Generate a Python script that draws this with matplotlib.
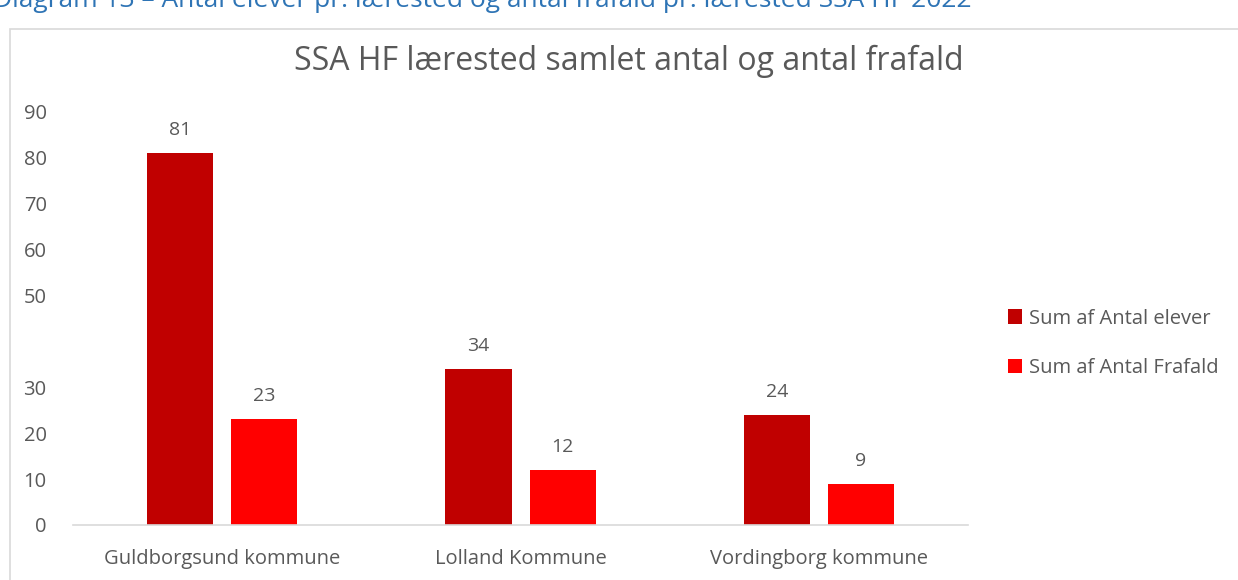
import matplotlib.pyplot as plt
from matplotlib.patches import Rectangle
import numpy as np

plt.rcParams["font.family"] = ["Open Sans", "DejaVu Sans"]

kommuner = ["Guldborgsund kommune", "Lolland Kommune", "Vordingborg kommune"]
antal_elever = [81, 34, 24]
antal_frafald = [23, 12, 9]
yticks = [0, 10, 20, 30, 50, 60, 70, 80, 90]

dark_red = "#C00000"
red = "#FF0000"
grey = "#595959"

fig = plt.figure(figsize=(12.38, 5.8), dpi=100)

# outer chart frame and the caption above it (cut at the top, as in the source)
fig.patches.append(Rectangle((0.008, -0.1), 1.2, 1.05, transform=fig.transFigure,
                             fill=False, edgecolor="#D9D9D9", linewidth=1.2))
fig.text(-0.006, 0.988, "Diagram 13 \u2013 Antal elever pr. l\u00e6rested og antal frafald pr. l\u00e6rested SSA HF 2022",
         color="#2E74B5", fontsize=19, ha="left", va="baseline")

ax = fig.add_axes([0.059, 0.095, 0.723, 0.712])
x = np.arange(len(kommuner))
w = 0.222
b1 = ax.bar(x - 0.141, antal_elever, w, color=dark_red, label="Sum af Antal elever")
b2 = ax.bar(x + 0.141, antal_frafald, w, color=red, label="Sum af Antal Frafald")
for bars in (b1, b2):
    ax.bar_label(bars, padding=10, fontsize=14, color=grey)

ax.set_xlim(-0.5, 2.5)
ax.set_ylim(0, 90)
ax.set_yticks(yticks)
ax.set_xticks(x)
ax.set_xticklabels(kommuner)
ax.tick_params(axis="both", length=0, labelsize=14.5, colors=grey)
ax.tick_params(axis="x", pad=17)
ax.tick_params(axis="y", pad=19)
for s in ["top", "right", "left"]:
    ax.spines[s].set_visible(False)
ax.spines["bottom"].set_color("#D9D9D9")
ax.spines["bottom"].set_linewidth(1.2)

fig.text(0.508, 0.895, "SSA HF l\u00e6rested samlet antal og antal frafald",
         ha="center", va="center", fontsize=23, color=grey)

ax.legend(loc="center left", bbox_to_anchor=(1.0, 0.44), frameon=False,
          fontsize=14.5, labelcolor=grey, handlelength=0.7, handleheight=0.7,
          handletextpad=0.3, labelspacing=1.45, borderaxespad=1.6)

fig.savefig("out.png", dpi=100)
